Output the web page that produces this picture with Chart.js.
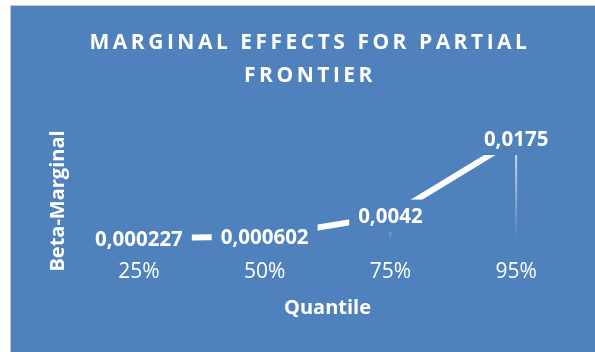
<!DOCTYPE html>
<html lang="en">
  <head>
    <meta charset="UTF-8" />
    <title>Marginal Effects for Partial Frontier</title>
    <script src="https://cdn.jsdelivr.net/npm/chart.js"></script>
    <style>
      body { margin: 0; background: #fff; }
      #frame {
        position: absolute; left: 10px; top: 5px; width: 585px; height: 347px;
        box-sizing: border-box; border-left: 1px solid #c8c8c8; border-top: 1px solid #c8c8c8;
        background: #4f81bd;
      }
      canvas { display: block; }
    </style>
  </head>
  <body>
    <div id="frame"><canvas id="marginalChart" width="584" height="346"></canvas></div>

    <script>
      const quantiles = ["25%", "50%", "75%", "95%"];
      const betaMarginal = [0.000227, 0.000602, 0.0042, 0.0175];
      const titleLines = ["MARGINAL EFFECTS FOR PARTIAL", "FRONTIER"];
      const yTitle = "Beta-Marginal";
      const xTitle = "Quantile";
      const bg = "#4f81bd";

      // drop lines, value labels and titles
      const textPlugin = {
        id: "texts",
        beforeDatasetsDraw(chart) {
          const ctx = chart.ctx;
          const y0 = chart.scales.y.getPixelForValue(0);
          chart.getDatasetMeta(0).data.forEach((pt) => {
            const g = ctx.createLinearGradient(0, pt.y, 0, y0);
            g.addColorStop(0, "rgba(255,255,255,0.85)");
            g.addColorStop(1, "rgba(255,255,255,0)");
            ctx.save();
            ctx.strokeStyle = g;
            ctx.lineWidth = 2;
            ctx.beginPath();
            ctx.moveTo(pt.x, pt.y);
            ctx.lineTo(pt.x, y0);
            ctx.stroke();
            ctx.restore();
          });
        },
        afterDatasetsDraw(chart) {
          const ctx = chart.ctx;
          const area = chart.chartArea;
          ctx.save();
          ctx.textAlign = "center";
          ctx.textBaseline = "alphabetic";

          ctx.font = "bold 20.5px 'Open Sans'";
          chart.getDatasetMeta(0).data.forEach((pt, i) => {
            const label = String(betaMarginal[i]).replace(".", ",");
            const w = ctx.measureText(label).width;
            ctx.fillStyle = bg;
            ctx.fillRect(pt.x - w / 2 - 9, pt.y - 16, w + 18, 32);
            ctx.fillStyle = "#fff";
            ctx.fillText(label, pt.x, pt.y + 7.4);
          });

          ctx.font = "bold 20px 'Open Sans'";
          ctx.fillText(xTitle, (area.left + area.right) / 2, 307.5);

          ctx.save();
          ctx.translate(52.5, 195);
          ctx.rotate(-Math.PI / 2);
          ctx.fillText(yTitle, 0, 0);
          ctx.restore();

          ctx.font = "bold 21px 'Open Sans'";
          ctx.letterSpacing = "3.5px";
          titleLines.forEach((t, i) => ctx.fillText(t, chart.width / 2 + 7, 43 + i * 33));
          ctx.restore();
        },
      };

      const ctx = document.getElementById("marginalChart").getContext("2d");
      new Chart(ctx, {
        type: "line",
        data: {
          labels: quantiles,
          datasets: [
            {
              label: "Beta-Marginal",
              data: betaMarginal,
              borderColor: "#ffffff",
              borderWidth: 6,
              pointRadius: 0,
              tension: 0,
              clip: false,
            },
          ],
        },
        options: {
          responsive: false,
          animation: false,
          layout: { padding: { top: 118.6, left: 65, right: 16, bottom: 0 } },
          plugins: { legend: { display: false }, tooltip: { enabled: false } },
          scales: {
            x: {
              offset: true,
              grid: { display: false },
              border: { display: false },
              ticks: {
                color: "#ffffff",
                font: { family: "'Open Sans'", size: 21 },
                padding: 12,
                maxRotation: 0,
              },
              afterFit: (scale) => {
                scale.height = 112.2;
              },
            },
            y: { display: false, min: 0, max: 0.02 },
          },
        },
        plugins: [textPlugin],
      });
    </script>
  </body>
</html>
